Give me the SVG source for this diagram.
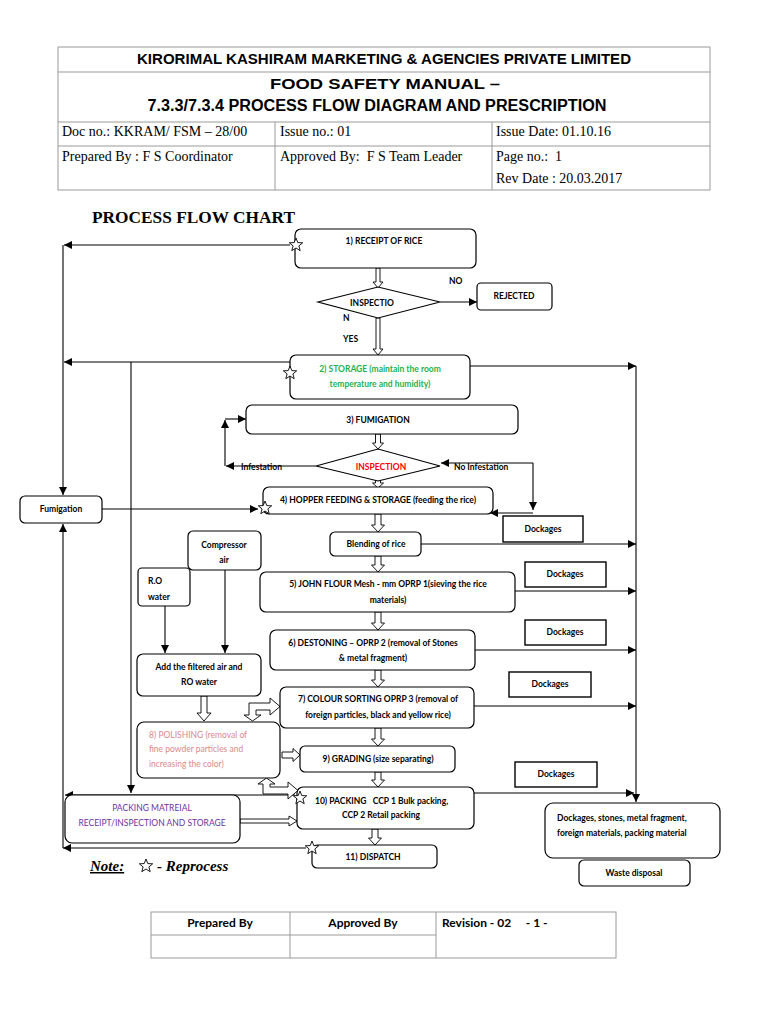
<svg xmlns="http://www.w3.org/2000/svg" xmlns:xlink="http://www.w3.org/1999/xlink" width="768" height="1024" viewBox="0 0 768 1024">
<style>
.hd{font-family:"Liberation Sans",Arial,sans-serif;font-weight:bold;fill:#000}
.sr{font-family:"Liberation Serif","Times New Roman",serif;font-size:14px;fill:#000}
.t{font-family:Lato,"Open Sans",sans-serif;font-weight:bold;font-size:8.5px;fill:#000}
.tc{text-anchor:middle}
.box{fill:#fff;stroke:#000;stroke-width:1.2}
.sq{fill:#fff;stroke:#000;stroke-width:1.4}
.tbl{fill:none;stroke:#9a9a9a;stroke-width:1}
.ln{fill:none;stroke:#000;stroke-width:1.1}
.ha{fill:#fff;stroke:#000;stroke-width:0.9}
.star{fill:#fff;stroke:#000;stroke-width:0.9}
</style>
<defs>
<marker id="ah" markerWidth="8" markerHeight="8" refX="8" refY="4" orient="auto" markerUnits="userSpaceOnUse"><path d="M0,0 L8,4 L0,8 Z" fill="#000"/></marker>
<path id="st" d="M0,-7 L1.8,-2.4 L6.7,-2.2 L2.9,0.9 L4.2,5.7 L0,3 L-4.2,5.7 L-2.9,0.9 L-6.7,-2.2 L-1.8,-2.4 Z"/>
</defs>
<rect width="768" height="1024" fill="#fff"/>

<g id="header">
<rect class="tbl" x="58" y="47" width="652" height="143"/>
<line class="tbl" x1="58" y1="72" x2="710" y2="72"/>
<line class="tbl" x1="58" y1="122" x2="710" y2="122"/>
<line class="tbl" x1="58" y1="146" x2="710" y2="146"/>
<line class="tbl" x1="275" y1="122" x2="275" y2="190"/>
<line class="tbl" x1="492" y1="122" x2="492" y2="190"/>
<text class="hd" x="384" y="64" font-size="14" text-anchor="middle" textLength="494" lengthAdjust="spacingAndGlyphs">KIRORIMAL KASHIRAM MARKETING &amp; AGENCIES PRIVATE LIMITED</text>
<text class="hd" x="385" y="89" font-size="15" text-anchor="middle" textLength="230" lengthAdjust="spacingAndGlyphs">FOOD SAFETY MANUAL –</text>
<text class="hd" x="377" y="111" font-size="16" text-anchor="middle" textLength="459" lengthAdjust="spacingAndGlyphs">7.3.3/7.3.4 PROCESS FLOW DIAGRAM AND PRESCRIPTION</text>
<text class="sr" x="62" y="136">Doc no.: KKRAM/ FSM – 28/00</text>
<text class="sr" x="280" y="136">Issue no.: 01</text>
<text class="sr" x="496" y="136">Issue Date: 01.10.16</text>
<text class="sr" x="62" y="161">Prepared By : F S Coordinator</text>
<text class="sr" x="280" y="161" xml:space="preserve">Approved By:  F S Team Leader</text>
<text class="sr" x="496" y="161" xml:space="preserve">Page no.:  1</text>
<text class="sr" x="496" y="183">Rev Date : 20.03.2017</text>
</g>

<text x="92" y="223" font-family="'Liberation Serif','Times New Roman',serif" font-weight="bold" font-size="17" textLength="203" lengthAdjust="spacingAndGlyphs">PROCESS FLOW CHART</text>

<g id="connectors">
<path class="ln" d="M290 245 H64" marker-end="url(#ah)"/>
<path class="ln" d="M63 245 V495" marker-end="url(#ah)"/>
<path class="ln" d="M290 362 H64" marker-end="url(#ah)"/>
<path class="ln" d="M131 362 V793" marker-end="url(#ah)"/>
<path class="ln" d="M440 302 H477" marker-end="url(#ah)"/>
<path class="ln" d="M470 366 H636" marker-end="url(#ah)"/>
<path class="ln" d="M636 366 V802" marker-end="url(#ah)"/>
<path class="ln" d="M316 466 H226" marker-end="url(#ah)"/>
<path class="ln" d="M225 466 V420" marker-end="url(#ah)"/>
<path class="ln" d="M225 419 H246" marker-end="url(#ah)"/>
<path class="ln" d="M533 463 H441" marker-end="url(#ah)"/>
<path class="ln" d="M533 463 V510" marker-end="url(#ah)"/>
<path class="ln" d="M533 513 H490" marker-end="url(#ah)"/>
<path class="ln" d="M102 509 H258" marker-end="url(#ah)"/>
<path class="ln" d="M225 570 V653" marker-end="url(#ah)"/>
<path class="ln" d="M165 606 V653" marker-end="url(#ah)"/>
<path class="ln" d="M421 544 H636" marker-end="url(#ah)"/>
<path class="ln" d="M515 591 H636" marker-end="url(#ah)"/>
<path class="ln" d="M475 650 H636" marker-end="url(#ah)"/>
<path class="ln" d="M474 706 H636" marker-end="url(#ah)"/>
<path class="ln" d="M474 793 H634" marker-end="url(#ah)"/>
<path class="ln" d="M295 795 H65" marker-end="url(#ah)"/>
<path class="ln" d="M306 848 H63" marker-end="url(#ah)"/>
<path class="ln" d="M63 848 V524" marker-end="url(#ah)"/>
<path class="ha" d="M376 268 H380 V282 H383 L378 288 L373 282 H376 Z"/>
<path class="ha" d="M376 318 H380 V349 H383 L378 355 L373 349 H376 Z"/>
<path class="ha" d="M375.5 434 H380.5 V443 H383.5 L378 449 L372.5 443 H375.5 Z"/>
<path class="ha" d="M375.5 480 H380.5 V483 H383.5 L378 488 L372.5 483 H375.5 Z"/>
<path class="ha" d="M375 514 H381 V525 H384.5 L378 532 L371.5 525 H375 Z"/>
<path class="ha" d="M375 556 H381 V565 H384.5 L378 572 L371.5 565 H375 Z"/>
<path class="ha" d="M375 612 H381 V623 H384.5 L378 630 L371.5 623 H375 Z"/>
<path class="ha" d="M375 670 H381 V680 H384.5 L378 687 L371.5 680 H375 Z"/>
<path class="ha" d="M375 728 H381 V739 H384.5 L378 746 L371.5 739 H375 Z"/>
<path class="ha" d="M375 772 H381 V780 H384.5 L378 787 L371.5 780 H375 Z"/>
<path class="ha" d="M372 829 H378 V838 H381.5 L375 845 L368.5 838 H372 Z"/>
<path class="ha" d="M201 696 H207 V713 H211 L204 721 L197 713 H201 Z"/>
<path class="ha" d="M282 752 V758 H293 V761.5 L300 755 L293 748.5 V752 Z"/>
<path class="ha" d="M240 819 V823 H289 V826 L297 821 L289 816 V819 Z"/>
<path class="ha" d="M252.5 721 L244 715 L249 715 L249 703 L270 703 L270 698 L280 706.5 L270 715 L270 710 L256 710 L256 715 L261 715 Z"/>
<path class="ha" d="M266.5 778 L258 784 L263 784 L263 794 L288 794 L288 799 L298 790.5 L288 782 L288 787 L270 787 L270 784 L275 784 Z"/>
</g>

<g id="n1"><rect class="box" x="295" y="229" width="181" height="39" rx="6"/><text class="t tc" x="384" y="244">1) RECEIPT OF RICE</text></g>
<g id="d1"><path class="box" d="M318 302 L378 287 L440 302 L378 318 Z"/><text class="t tc" x="372" y="306" font-size="8">INSPECTIO</text><text class="t" x="343" y="321" font-size="8">N</text></g>
<text class="t" x="449" y="284">NO</text>
<text class="t" x="343" y="342" font-size="8">YES</text>
<g id="rej"><rect class="box" x="477" y="283" width="75" height="27" rx="4"/><text class="t tc" x="514" y="299" font-size="8">REJECTED</text></g>
<g id="n2"><rect class="box" x="290" y="355" width="180" height="44" rx="6"/><text class="t tc" x="380" y="372" style="fill:#22b14c">2) STORAGE (maintain the room</text><text class="t tc" x="380" y="387" style="fill:#22b14c">temperature and humidity)</text></g>
<g id="n3"><rect class="box" x="246" y="405" width="272" height="29" rx="6"/><text class="t tc" x="378" y="423">3) FUMIGATION</text></g>
<g id="d2"><path class="box" d="M316 466 L378 449 L440 466 L378 481 Z"/><text class="t tc" x="381" y="470" style="fill:#ff0000">INSPECTION</text></g>
<text class="t" x="241" y="470">Infestation</text>
<text class="t" x="454" y="470">No Infestation</text>
<g id="n4"><rect class="box" x="263" y="487" width="230" height="27" rx="6"/><text class="t tc" x="378" y="503">4) HOPPER FEEDING &amp; STORAGE (feeding the rice)</text></g>
<g id="fum"><rect class="box" x="20" y="496" width="82" height="27" rx="5"/><text class="t tc" x="61" y="512">Fumigation</text></g>
<g id="blend"><rect class="box" x="330" y="532" width="91" height="24" rx="5"/><text class="t tc" x="376" y="547">Blending of rice</text></g>
<g id="n5"><rect class="box" x="260" y="572" width="255" height="40" rx="6"/><text class="t tc" x="388" y="587">5) JOHN FLOUR Mesh - mm OPRP 1(sieving the rice</text><text class="t tc" x="388" y="603">materials)</text></g>
<g id="n6"><rect class="box" x="270" y="630" width="205" height="40" rx="6"/><text class="t tc" x="373" y="646">6) DESTONING – OPRP 2 (removal of Stones</text><text class="t tc" x="373" y="661">&amp; metal fragment)</text></g>
<g id="n7"><rect class="box" x="280" y="687" width="194" height="41" rx="6"/><text class="t tc" x="378" y="702">7) COLOUR SORTING OPRP 3 (removal of</text><text class="t tc" x="378" y="718">foreign particles, black and yellow rice)</text></g>
<g id="comp"><rect class="box" x="188" y="531" width="73" height="39" rx="5"/><text class="t tc" x="224" y="548">Compressor</text><text class="t tc" x="224" y="563">air</text></g>
<g id="ro"><rect class="box" x="138" y="568" width="52" height="38" rx="4"/><text class="t" x="148" y="584">R.O</text><text class="t" x="148" y="600">water</text></g>
<g id="add"><rect class="box" x="137" y="654" width="124" height="42" rx="6"/><text class="t tc" x="199" y="670">Add the filtered air and</text><text class="t tc" x="199" y="685">RO water</text></g>
<g id="n8"><rect class="box" x="137" y="722" width="143" height="56" rx="7"/><text class="t" x="149" y="738" style="fill:#d9888a;font-weight:normal">8) POLISHING (removal of</text><text class="t" x="149" y="752" style="fill:#d9888a;font-weight:normal">fine powder particles and</text><text class="t" x="149" y="767" style="fill:#d9888a;font-weight:normal">increasing the color)</text></g>
<g id="n9"><rect class="box" x="300" y="746" width="155" height="26" rx="5"/><text class="t tc" x="378" y="762">9) GRADING (size separating)</text></g>
<g id="n10"><rect class="box" x="297" y="787" width="177" height="42" rx="6"/><text class="t" x="315" y="804" xml:space="preserve">10) PACKING   CCP 1 Bulk packing,</text><text class="t" x="342" y="818">CCP 2 Retail packing</text></g>
<g id="pm"><rect class="box" x="65" y="795" width="175" height="48" rx="7"/><text class="t tc" x="152" y="811" style="fill:#7030a0;font-weight:normal">PACKING MATREIAL</text><text class="t tc" x="152" y="826" style="fill:#7030a0;font-weight:normal">RECEIPT/INSPECTION AND STORAGE</text></g>
<g id="n11"><rect class="box" x="312" y="845" width="125" height="23" rx="5"/><text class="t tc" x="373" y="860">11) DISPATCH</text></g>
<g id="dk1"><rect class="sq" x="503" y="516" width="80" height="26"/><text class="t tc" x="543" y="532">Dockages</text></g>
<g id="dk2"><rect class="sq" x="525" y="562" width="81" height="25"/><text class="t tc" x="565" y="577">Dockages</text></g>
<g id="dk3"><rect class="sq" x="525" y="620" width="81" height="25"/><text class="t tc" x="565" y="635">Dockages</text></g>
<g id="dk4"><rect class="sq" x="509" y="672" width="82" height="25"/><text class="t tc" x="550" y="687">Dockages</text></g>
<g id="dk5"><rect class="sq" x="515" y="762" width="82" height="25"/><text class="t tc" x="556" y="777">Dockages</text></g>
<g id="waste"><rect class="box" x="545" y="803" width="175" height="55" rx="8"/><text class="t" x="557" y="821">Dockages, stones, metal fragment,</text><text class="t" x="557" y="836">foreign materials, packing material</text></g>
<g id="wd"><rect class="box" x="579" y="860" width="111" height="26" rx="5"/><text class="t tc" x="634" y="876">Waste disposal</text></g>

<g id="stars">
<use xlink:href="#st" href="#st" class="star" x="296" y="245"/>
<use xlink:href="#st" href="#st" class="star" x="290" y="373"/>
<use xlink:href="#st" href="#st" class="star" x="265" y="508"/>
<use xlink:href="#st" href="#st" class="star" x="300" y="798"/>
<use xlink:href="#st" href="#st" class="star" x="312" y="848"/>
</g>

<g id="note">
<text x="90" y="871" font-family="'Liberation Serif','Times New Roman',serif" font-weight="bold" font-style="italic" font-size="15" text-decoration="underline">Note:</text>
<use xlink:href="#st" href="#st" class="star" x="146" y="866"/>
<text x="157" y="871" font-family="'Liberation Serif','Times New Roman',serif" font-weight="bold" font-style="italic" font-size="15">- Reprocess</text>
</g>

<g id="footer">
<rect class="tbl" x="151" y="912" width="465" height="46"/>
<line class="tbl" x1="151" y1="935" x2="436" y2="935"/>
<line class="tbl" x1="290" y1="912" x2="290" y2="958"/>
<line class="tbl" x1="436" y1="912" x2="436" y2="958"/>
<text x="220" y="927" text-anchor="middle" font-family="Lato,'Open Sans',sans-serif" font-weight="bold" font-size="12">Prepared By</text>
<text x="363" y="927" text-anchor="middle" font-family="Lato,'Open Sans',sans-serif" font-weight="bold" font-size="12">Approved By</text>
<text x="442" y="927" font-family="Lato,'Open Sans',sans-serif" font-weight="bold" font-size="12" xml:space="preserve">Revision - 02     - 1 -</text>
</g>
</svg>
